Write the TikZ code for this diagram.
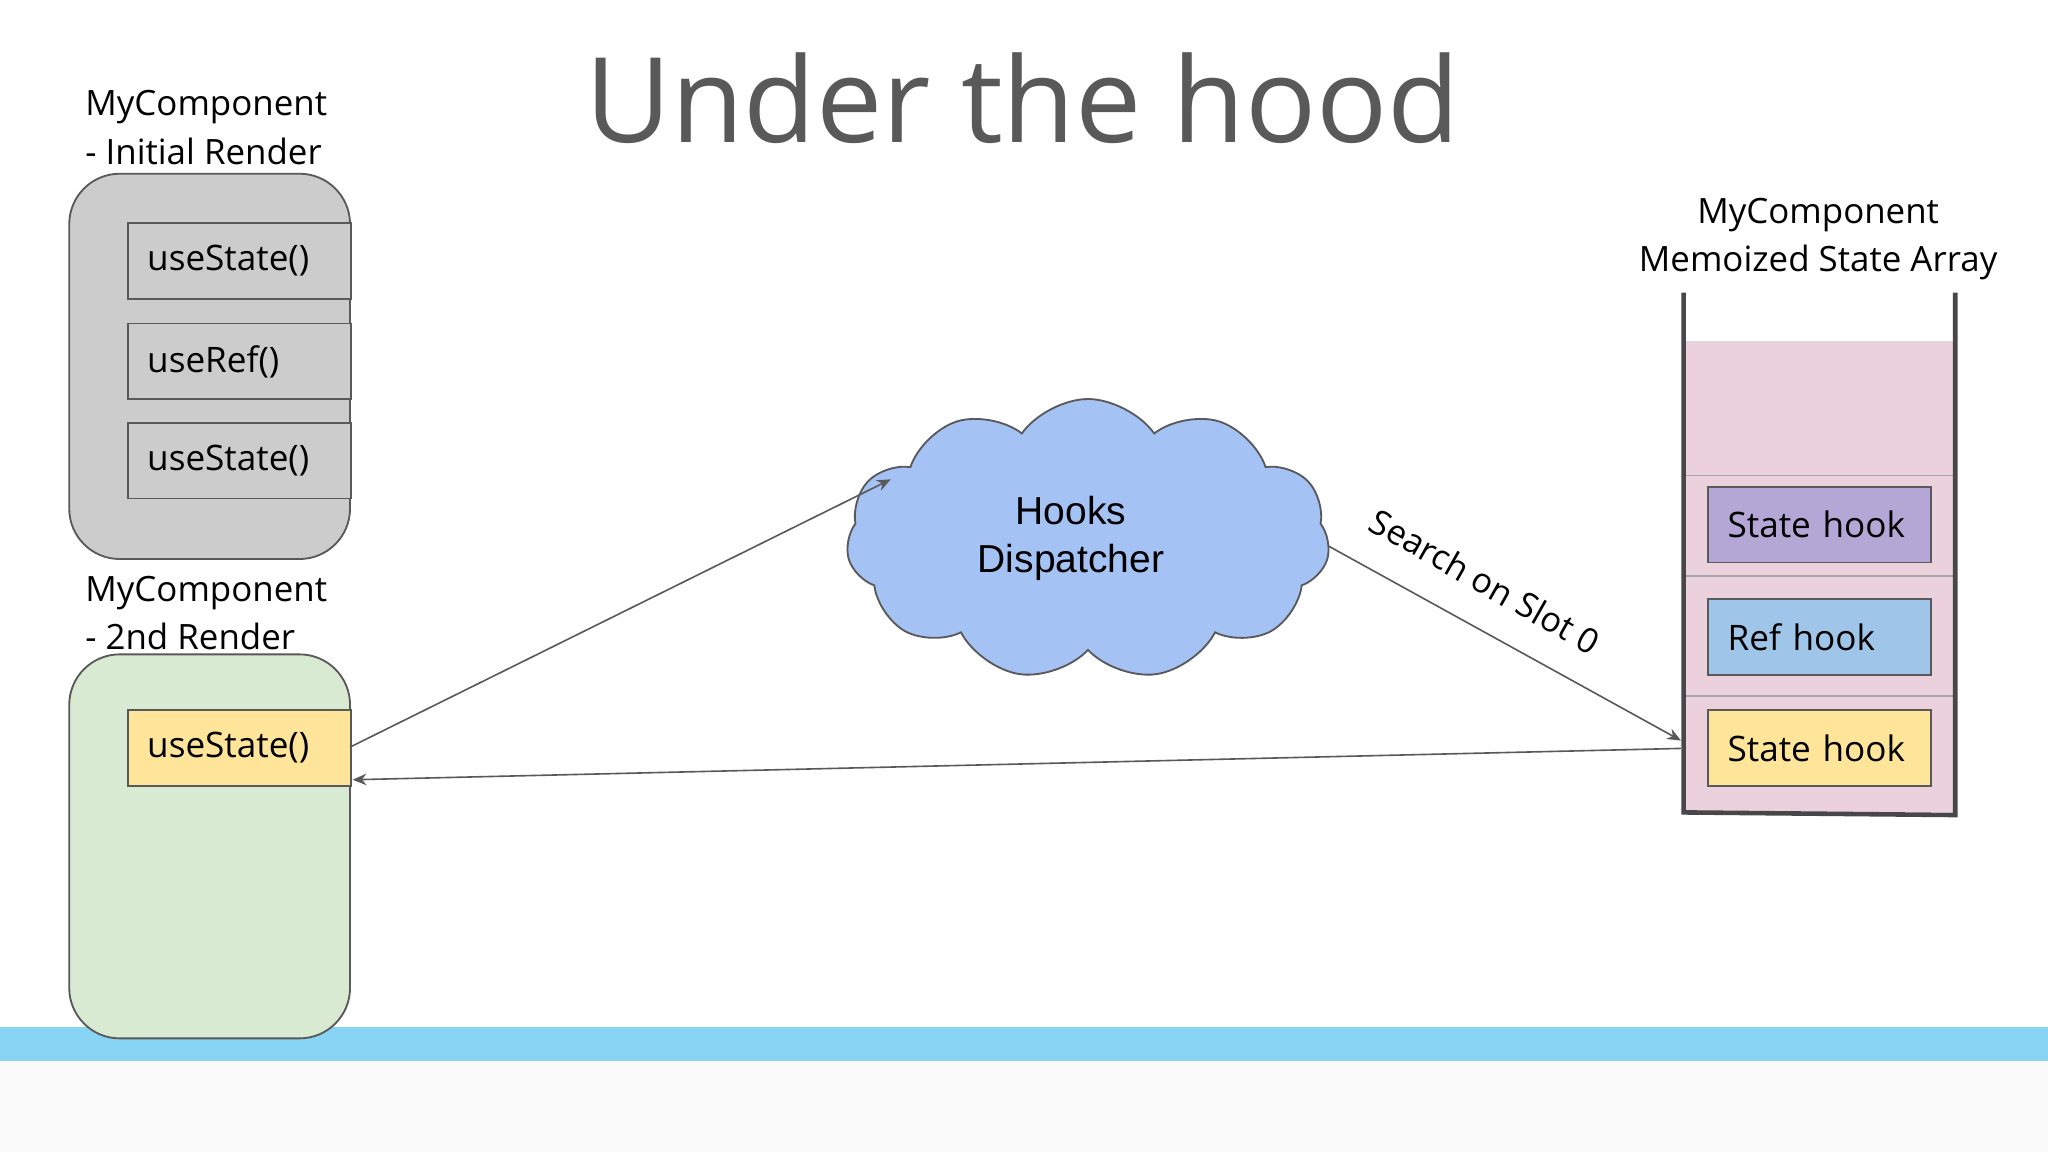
\documentclass[tikz,border=0pt]{standalone}
\usepackage{fontspec}
\setmainfont{Open Sans}
\newfontfamily\arialf{Liberation Sans}
\usetikzlibrary{shapes.symbols,arrows.meta}
\definecolor{gbox}{HTML}{CCCCCC}
\definecolor{grn}{HTML}{D9EAD3}
\definecolor{ylw}{HTML}{FFE599}
\definecolor{cloudc}{HTML}{A4C2F4}
\definecolor{pinkc}{HTML}{EAD1DC}
\definecolor{purp}{HTML}{B4A7D6}
\definecolor{lblue}{HTML}{9FC5E8}
\definecolor{barc}{HTML}{87D4F5}
\definecolor{titlec}{HTML}{595959}
\definecolor{edge}{HTML}{595959}
\tikzset{
  outer/.style={draw=edge, rounded corners=22pt, line width=0.8pt},
  hookbox/.style={draw=edge, line width=0.8pt, anchor=north west, minimum width=171*0.02cm, minimum height=58*0.02cm, inner sep=0pt, font=\fontsize{15.3}{18}\selectfont, text width=141*0.02cm, align=left},
  lbl/.style={anchor=north west, align=left, font=\fontsize{15.2}{21}\selectfont, inner sep=0pt},
  conn/.style={draw=edge, line width=0.7pt, -{Stealth[length=6pt,width=5pt]}}
}
\begin{document}
\begin{tikzpicture}[x=0.02cm,y=-0.02cm]
\useasboundingbox (0,0) rectangle (1568,882);
\fill[white] (0,0) rectangle (1568,882);
\fill[barc] (0,786) rectangle (1568,812);
\fill[black!2] (0,812) rectangle (1568,882);
\node[text=titlec, font=\fontsize{51.5}{60}\selectfont] (title) at (783,75) {Under the hood};
% left top
\node[lbl] (l1) at (65,69) {MyComponent\\- Initial Render};
\draw[outer, fill=gbox] (53,133) rectangle (268,428);
\node[hookbox, fill=gbox] (u1) at (97,170) {useState()};
\node[hookbox, fill=gbox] (u2) at (97,247) {useRef()};
\node[hookbox, fill=gbox] (u3) at (97,323) {useState()};
% left bottom
\node[lbl] (l2) at (65,441) {MyComponent\\- 2nd Render};
\draw[outer, fill=grn] (53,501) rectangle (268,795);
\node[hookbox, fill=ylw] (u4) at (97,543) {useState()};
% cloud
\node[cloud, cloud puffs=11, cloud puff arc=110, aspect=1.7, draw=edge, line width=0.8pt, fill=cloudc, minimum width=370*0.02cm, minimum height=215*0.02cm] (cloud) at (833,413) {};
\node[align=center, font=\arialf\fontsize{17}{21}\selectfont] (ctext) at (820,412) {Hooks\\Dispatcher};
% stack
\node[align=center, font=\fontsize{15.2}{21}\selectfont] (sl) at (1392,183) {MyComponent\\Memoized State Array};
\fill[pinkc] (1289,261) rectangle (1497,622);
\draw[gray!70, line width=0.8pt] (1289,364) -- (1497,364) (1289,441) -- (1497,441) (1289,533) -- (1497,533);
\draw[edge!80!black, line width=2pt] (1289,224) -- (1289,622) -- (1497,624) -- (1497,224);
\node[hookbox, fill=purp] (s1) at (1307,372) {State hook};
\node[hookbox, fill=lblue] (s2) at (1307,458) {Ref hook};
\node[hookbox, fill=ylw] (s3) at (1307,543) {State hook};
\coordinate (ue) at (268,572);
\coordinate (cin) at (682,367);
\coordinate (cout) at (1017,418);
\coordinate (sin) at (1287,567);
\coordinate (sout) at (1287,573);
\coordinate (uin) at (270,597);
\draw[conn] (ue) -- (cin);
\draw[conn] (cout) -- (sin);
\draw[conn] (sout) -- (uin);
\node[rotate=-29.5, font=\fontsize{15}{18}\selectfont] (lab) at (1137,445) {Search on Slot 0};
\end{tikzpicture}
\end{document}
